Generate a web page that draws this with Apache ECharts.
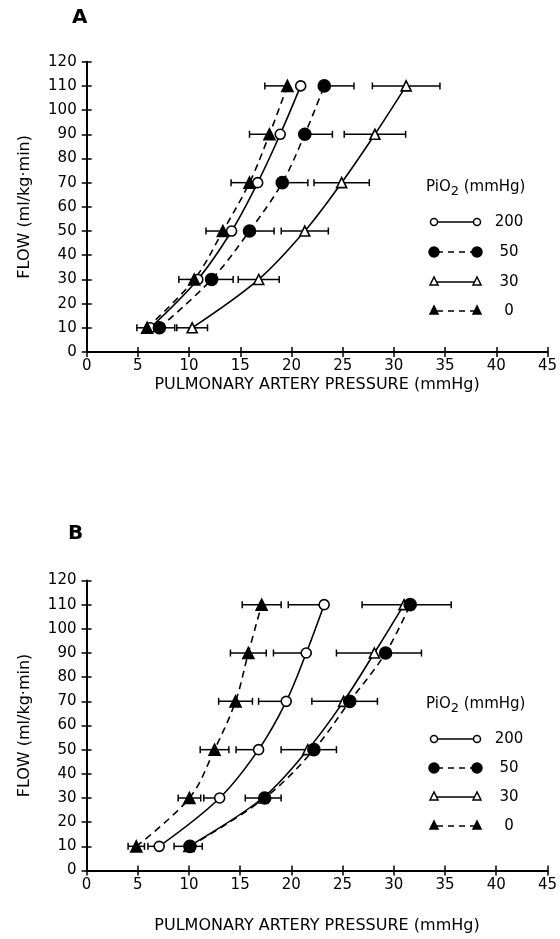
<!DOCTYPE html>
<html>
<head>
<meta charset="utf-8">
<script src="https://cdn.jsdelivr.net/npm/echarts@6/dist/echarts.min.js"></script>
<style>
html,body{margin:0;padding:0;background:#fff;}
#chart{width:560px;height:939px;}
</style>
</head>
<body>
<div id="chart"></div>
<script>
// ---- data ----
const flows = [10, 30, 50, 70, 90, 110];
const legendLevels = ['200', '50', '30', '0'];

// Panel A
const a200 = [6.2, 10.85, 14.15, 16.7, 18.9, 20.9];
const a50 = [7.1, 12.2, 15.9, 19.1, 21.3, 23.2];
const a50ErrR = [1.5, 2.1, 2.4, 2.5, 2.7, 2.9];
const a30 = [10.3, 16.8, 21.3, 24.9, 28.15, 31.2];
const a30Err = [1.5, 2.0, 2.3, 2.7, 3.0, 3.3];
const a0 = [5.9, 10.5, 13.3, 15.9, 17.85, 19.6];
const a0ErrL = [1.0, 1.5, 1.65, 1.8, 1.95, 2.2];

// Panel B
const b200 = [7.1, 13.0, 16.8, 19.5, 21.45, 23.2];
const b200ErrL = [1.1, 1.55, 2.2, 2.7, 3.2, 3.5];
const b50 = [10.1, 17.4, 22.2, 25.7, 29.2, 31.6];
const b50ErrR = [1.2, 1.6, 2.2, 2.7, 3.5, 4.0];
const b30 = [10.0, 17.2, 21.6, 25.1, 28.1, 31.0];
const b30ErrL = [1.45, 1.7, 2.6, 3.1, 3.7, 4.1];
const b0 = [4.86, 10.05, 12.5, 14.55, 15.8, 17.1];
const b0Err = [0.8, 1.1, 1.4, 1.65, 1.75, 1.9];

const xName = 'PULMONARY ARTERY PRESSURE (mmHg)';
const yName = 'FLOW (ml/kg\u00B7min)';

// ---- styles ----
const FONT = 'DejaVu Sans';
const styles = {
  '200': {symbol: 'circle', size: 10, fill: '#fff', dash: 'solid'},
  '50': {symbol: 'circle', size: 12, fill: '#000', dash: 'dashed'},
  '30': {symbol: 'triangle', size: 10, fill: '#fff', dash: 'solid'},
  '0': {symbol: 'triangle', size: 11, fill: '#000', dash: 'dashed'}
};

function pts(xs) { return flows.map((f, i) => [xs[i], f]); }
function errData(xs, l, r) {
  return flows.map((f, i) => [xs[i], f, xs[i] - (l ? l[i] : 0), xs[i] + (r ? r[i] : 0)]);
}

function lineSeries(xs, key, axis) {
  const s = styles[key];
  return {
    type: 'line', xAxisIndex: axis, yAxisIndex: axis, data: pts(xs),
    smooth: 0.35, symbol: s.symbol, symbolSize: s.size, z: 5,
    lineStyle: {color: '#000', width: 1.6, type: s.dash === 'dashed' ? [7, 5] : 'solid'},
    itemStyle: {color: s.fill, borderColor: '#000', borderWidth: 1.6, opacity: 1}
  };
}

function errSeries(data, axis) {
  return {
    type: 'custom', xAxisIndex: axis, yAxisIndex: axis, data: data, z: 3,
    encode: {x: [0, 2, 3], y: 1},
    renderItem: function (params, api) {
      const x = api.value(0), y = api.value(1), lo = api.value(2), hi = api.value(3);
      const pL = api.coord([lo, y]), pR = api.coord([hi, y]);
      const st = {stroke: '#000', lineWidth: 1.5};
      const ch = [{type: 'line', shape: {x1: pL[0], y1: pL[1], x2: pR[0], y2: pR[1]}, style: st}];
      if (lo < x) ch.push({type: 'line', shape: {x1: pL[0], y1: pL[1] - 3.5, x2: pL[0], y2: pL[1] + 3.5}, style: st});
      if (hi > x) ch.push({type: 'line', shape: {x1: pR[0], y1: pR[1] - 3.5, x2: pR[0], y2: pR[1] + 3.5}, style: st});
      return {type: 'group', children: ch};
    }
  };
}

function xAxes(grid, gap) {
  return [{
    gridIndex: grid, type: 'value', min: 0, max: 45, interval: 5,
    name: xName, nameLocation: 'middle', nameGap: gap,
    nameTextStyle: {fontFamily: FONT, fontSize: 16, color: '#000'},
    axisLine: {lineStyle: {color: '#000', width: 2}},
    axisTick: {length: 5, lineStyle: {color: '#000', width: 1.5}},
    axisLabel: {fontFamily: FONT, fontSize: 15, color: '#000', margin: 7},
    splitLine: {show: false}
  }, {
    gridIndex: grid, type: 'value', min: 0, max: 45, interval: 5, position: 'bottom',
    axisLine: {show: false}, axisLabel: {show: false}, splitLine: {show: false},
    axisTick: {inside: true, length: 5, lineStyle: {color: '#000', width: 1.5}}
  }];
}
function yAxes(grid) {
  return [{
    gridIndex: grid, type: 'value', min: 0, max: 120, interval: 10,
    name: yName, nameLocation: 'middle', nameGap: 54,
    nameTextStyle: {fontFamily: FONT, fontSize: 16, color: '#000'},
    axisLine: {lineStyle: {color: '#000', width: 2}},
    axisTick: {length: 5, lineStyle: {color: '#000', width: 1.5}},
    axisLabel: {fontFamily: FONT, fontSize: 15, color: '#000', margin: 10},
    splitLine: {show: false}
  }, {
    gridIndex: grid, type: 'value', min: 0, max: 120, interval: 10, position: 'left',
    axisLine: {show: false}, axisLabel: {show: false}, splitLine: {show: false},
    axisTick: {inside: true, length: 5, lineStyle: {color: '#000', width: 1.5}}
  }];
}

function legendGraphics(titleY, rowYs) {
  const out = [{
    type: 'text', left: 426, top: titleY - 10,
    style: {
      text: 'PiO{sub|2} (mmHg)',
      font: '15px "' + FONT + '"', fill: '#000',
      rich: {sub: {fontSize: 13, fontFamily: FONT, padding: [9, 0, 0, 0]}}
    }
  }];
  legendLevels.forEach((k, i) => {
    const s = styles[k], y = rowYs[i];
    const x1 = 434, x2 = 477;
    out.push({type: 'line', shape: {x1: x1 + 3, y1: y, x2: x2 - 3, y2: y},
      style: {stroke: '#000', lineWidth: 1.5, lineDash: s.dash === 'dashed' ? [6, 5] : null}});
    [x1, x2].forEach(cx => {
      if (s.symbol === 'circle') {
        out.push({type: 'circle', shape: {cx: cx, cy: y, r: k === '50' ? 5 : 3.5},
          style: {fill: s.fill, stroke: '#000', lineWidth: 1.5}, z: 10});
      } else {
        const h = 8, w = 8;
        out.push({type: 'polygon', shape: {points: [[cx, y - h / 2 - 1], [cx - w / 2, y + h / 2 - 1], [cx + w / 2, y + h / 2 - 1]]},
          style: {fill: s.fill, stroke: '#000', lineWidth: 1.5}, z: 10});
      }
    });
    out.push({type: 'text', x: 509, y: y, style: {text: k, font: '15px "' + FONT + '"', fill: '#000', align: 'center', verticalAlign: 'middle'}});
  });
  return out;
}

const chart = echarts.init(document.getElementById('chart'), null, {renderer: 'canvas'});
chart.setOption({
  backgroundColor: '#fff',
  animation: false,
  grid: [
    {left: 86.7, top: 61.7, width: 462.5, height: 290.3},
    {left: 86.5, top: 580.5, width: 462.5, height: 290}
  ],
  xAxis: [...xAxes(0, 25), ...xAxes(1, 47)],
  yAxis: [...yAxes(0), ...yAxes(1)],
  series: [
    errSeries(errData(a50, null, a50ErrR), 0),
    errSeries(errData(a30, a30Err, a30Err), 0),
    errSeries(errData(a0, a0ErrL, null), 0),
    lineSeries(a200, '200', 0),
    lineSeries(a50, '50', 0),
    lineSeries(a30, '30', 0),
    lineSeries(a0, '0', 0),
    errSeries(errData(b200, b200ErrL, null), 2),
    errSeries(errData(b50, null, b50ErrR), 2),
    errSeries(errData(b30, b30ErrL, null), 2),
    errSeries(errData(b0, b0Err, b0Err), 2),
    lineSeries(b200, '200', 2),
    lineSeries(b30, '30', 2),
    lineSeries(b50, '50', 2),
    lineSeries(b0, '0', 2)
  ],
  graphic: [
    {type: 'text', left: 72, top: 8, style: {text: 'A', font: 'bold 20px "' + FONT + '"', fill: '#000'}},
    {type: 'text', left: 68, top: 524, style: {text: 'B', font: 'bold 20px "' + FONT + '"', fill: '#000'}},
    ...legendGraphics(190, [222, 252, 282, 311]),
    ...legendGraphics(707, [739, 768, 797, 826])
  ]
});
</script>
</body>
</html>
